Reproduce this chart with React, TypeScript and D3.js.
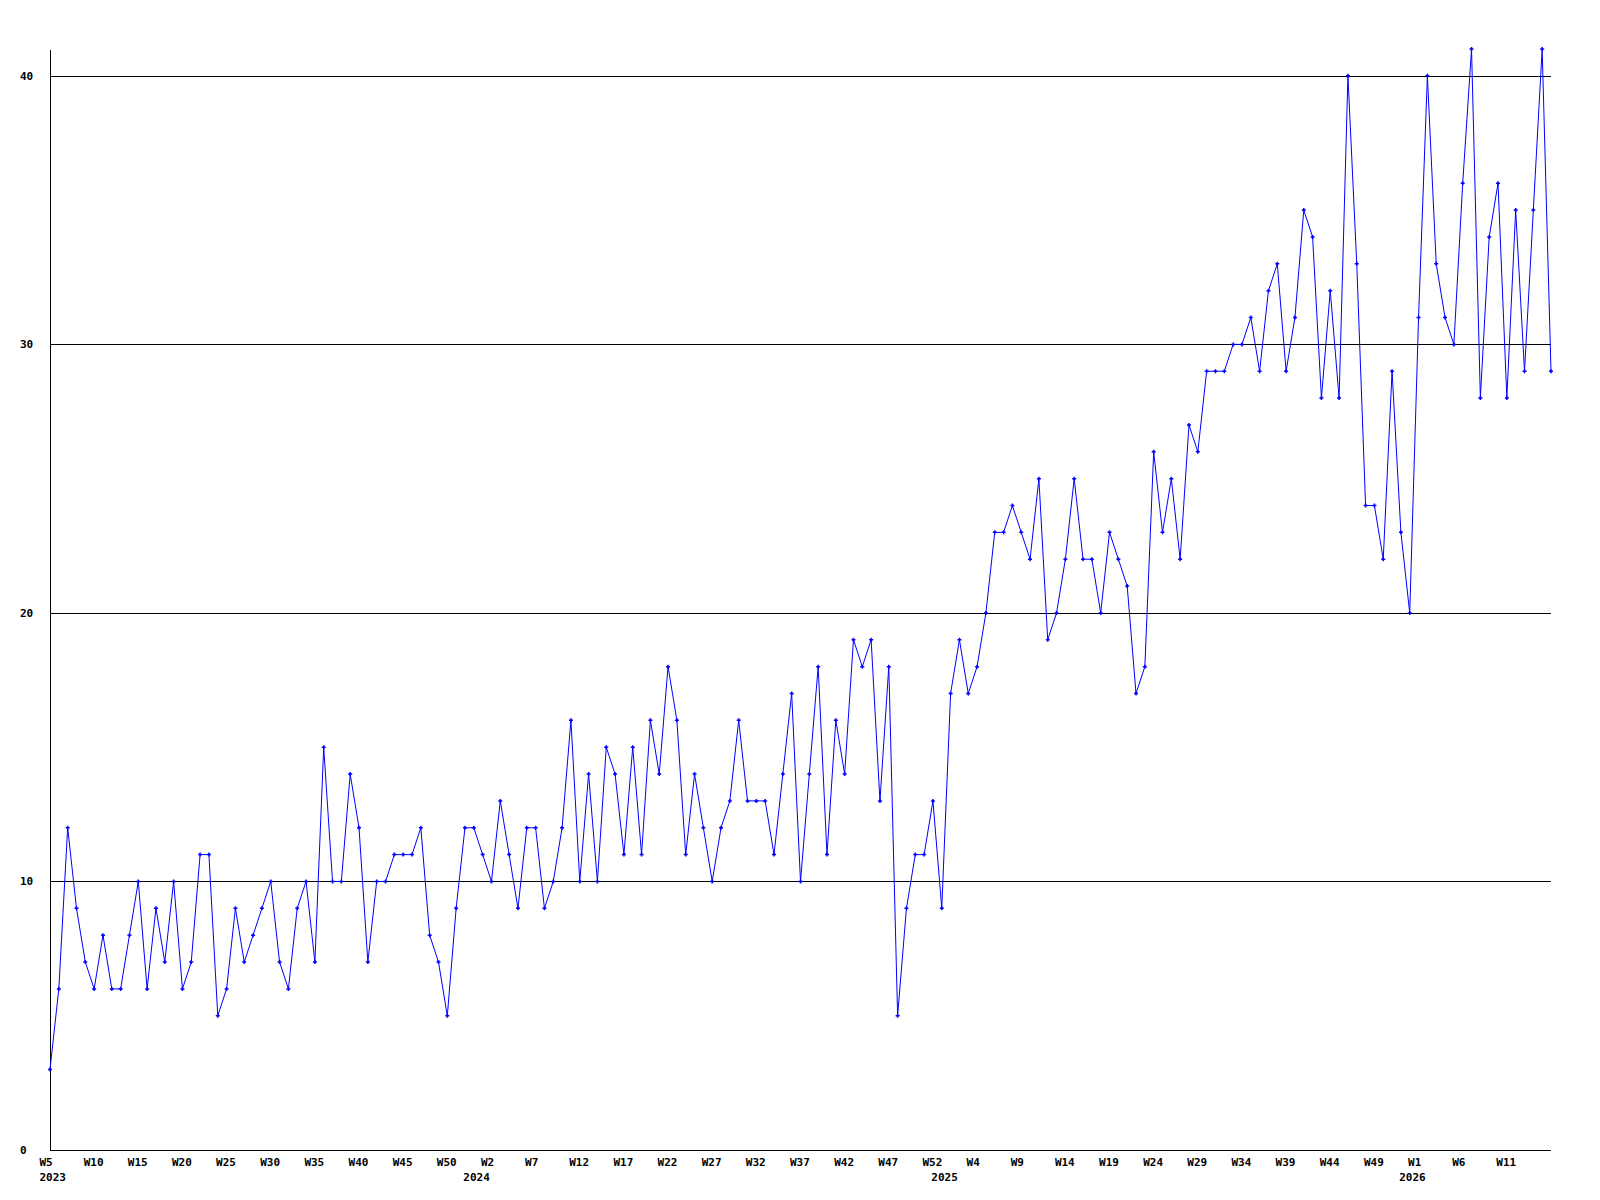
import React from "react";
import * as d3 from "d3";

const counts: number[] = [
  3, 6, 12, 9, 7, 6, 8, 6, 6, 8, 10, 6, 9, 7, 10, 6, 7, 11, 11, 5, 6, 9, 7, 8, 9, 10, 7, 6, 9, 10, 7, 15, 10, 10, 14, 12, 7, 10, 10, 11, 11, 11, 12, 8, 7,
  5, 9, 12, 12, 11, 10, 13, 11, 9, 12, 12, 9, 10, 12, 16, 10, 14, 10, 15, 14, 11, 15, 11, 16, 14, 18, 16, 11, 14,
  12, 10, 12, 13, 16, 13, 13, 13, 11, 14, 17, 10, 14, 18, 11, 16, 14, 19, 18, 19, 13, 18, 5, 9, 11, 11, 13, 9,
  17, 19, 17, 18, 20, 23, 23, 24, 23, 22, 25, 19, 20, 22, 25, 22, 22, 20, 23, 22, 21, 17, 18, 26, 23, 25, 22, 27, 26,
  29, 29, 29, 30, 30, 31, 29, 32, 33, 29, 31, 35, 34, 28, 32, 28, 40, 33, 24, 24, 22,
  29, 23, 20, 31, 40, 33, 31, 30, 36, 41, 28, 34, 36, 28, 35, 29, 35, 41, 29,
];

const weekTickLabels: string[] = [
  "W5", "W10", "W15", "W20", "W25", "W30", "W35", "W40", "W45", "W50",
  "W2", "W7", "W12", "W17", "W22", "W27", "W32", "W37", "W42", "W47",
  "W52", "W4", "W9", "W14", "W19", "W24", "W29", "W34", "W39", "W44",
  "W49", "W1", "W6", "W11",
];
const tickEvery = 5;

const yearLabels: string[] = ["2023", "2024", "2025", "2026"];
const yearStartIndex: number[] = [0, 48, 101, 154];

const yTicks: number[] = [0, 10, 20, 30, 40];
const yMax = 41;

const W = 1600;
const H = 1200;
const left = 50;
const right = 1551;
const bottom = 1150;
const top = 49;
const font = "'DejaVu Sans Mono', monospace";

export default function App() {
  const x = d3.scaleLinear().domain([0, counts.length - 1]).range([left, right]);
  const y = d3.scaleLinear().domain([0, yMax]).range([bottom, top]);
  const line = d3
    .line<number>()
    .x((_, i) => x(i))
    .y((d) => y(d));

  return (
    <svg
      width={W}
      height={H}
      style={{ position: "absolute", left: 0, top: 0, background: "#fff" }}
    >
      <rect x={0} y={0} width={W} height={H} fill="#fff" />
      {yTicks
        .filter((t) => t > 0)
        .map((t) => (
          <line
            key={"g" + t}
            x1={left}
            x2={right}
            y1={Math.round(y(t)) + 0.5}
            y2={Math.round(y(t)) + 0.5}
            stroke="#000"
            strokeWidth={1}
            shapeRendering="crispEdges"
          />
        ))}
      <line x1={left + 0.5} x2={left + 0.5} y1={50} y2={bottom} stroke="#000" shapeRendering="crispEdges" />
      <line x1={left} x2={right} y1={bottom + 0.5} y2={bottom + 0.5} stroke="#000" shapeRendering="crispEdges" />
      {yTicks.map((t) => (
        <text
          key={"yl" + t}
          x={20}
          y={y(t)}
          dy="0.35em"
          fontFamily={font}
          fontWeight="bold"
          fontSize={11}
          fill="#000"
        >
          {t}
        </text>
      ))}
      {weekTickLabels.map((lab, k) => (
        <text
          key={"wl" + k}
          x={x(k * tickEvery) - 10.5}
          y={1166}
          fontFamily={font}
          fontWeight="bold"
          fontSize={11}
          fill="#000"
        >
          {lab}
        </text>
      ))}
      {yearLabels.map((lab, k) => (
        <text
          key={"yr" + k}
          x={x(yearStartIndex[k]) - 10.5}
          y={1181}
          fontFamily={font}
          fontWeight="bold"
          fontSize={11}
          fill="#000"
        >
          {lab}
        </text>
      ))}
      <path d={line(counts) || ""} fill="none" stroke="#0000ff" strokeWidth={1} />
      {counts.map((v, i) => {
        const cx = x(i);
        const cy = y(v);
        return (
          <path
            key={"m" + i}
            d={`M${cx - 2},${cy}H${cx + 2}M${cx},${cy - 2}V${cy + 2}`}
            stroke="#0000ff"
            strokeWidth={1.5}
            fill="none"
          />
        );
      })}
    </svg>
  );
}
